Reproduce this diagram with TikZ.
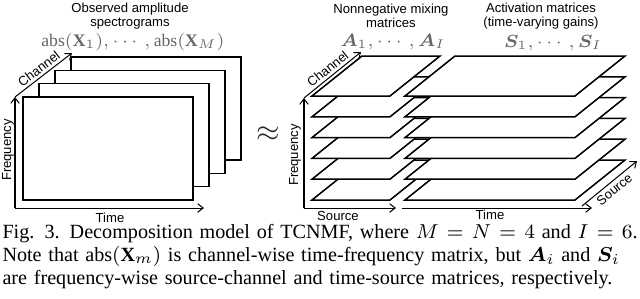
\documentclass[tikz,border=0pt]{standalone}
\usepackage{amsmath}
\usepackage{bm}
\usepackage{fontspec}
\setmainfont{Liberation Serif}
\setsansfont{Liberation Sans}
\usetikzlibrary{arrows.meta, positioning, calc}

\begin{document}
\begin{tikzpicture}[
    x=0.3968pt, y=-0.3968pt,
    lbl/.style={font=\sffamily\fontsize{5.2}{5.2}\selectfont, inner sep=1pt},
    ttl/.style={font=\sffamily\fontsize{5.2}{5.4}\selectfont, align=center, inner sep=0pt},
    mth/.style={font=\fontsize{7}{7}\selectfont, text=black!60, inner sep=0pt},
    axis/.style={-{Straight Barb[length=2.2pt, width=3.4pt]}, line width=0.4pt},
    frame/.style={draw, fill=white, line width=0.6pt},
]
\useasboundingbox (0,0) rectangle (640,298);

% observed spectrograms
\foreach \k in {3,2,1,0}
    \draw[frame] (23+16*\k, 97-13.33*\k) rectangle ++(170,103);
\coordinate (oL) at (15,208);
\coordinate (fL) at (15,97);
\coordinate (tL) at (204,208);
\coordinate (cL) at (72,53);
\draw[axis] (oL) -- (fL);
\draw[axis] (oL) -- (tL);
\draw[axis] (fL) -- node[lbl, sloped, above] (chL) {Channel} (cL);
\node[lbl, rotate=90] (frL) at (8,150) {Frequency};
\node[lbl] (tmL) at (110,218) {Time};
\node[ttl] (obs) at (130,16) {Observed amplitude\\spectrograms};
\node[mth] (absX) at (133,42) {$\mathrm{abs}(\mathbf{X}_1),\cdots,\mathrm{abs}(\mathbf{X}_M)$};

\node[text=black!85] (apx) at (268,134) {\fontsize{13}{13}\selectfont$\approx$};

% mixing and activation matrices
\foreach \j in {0,...,5} {
    \draw[frame] (312,200-20.8*\j) -- ++(78,0) -- ++(50,-40) -- ++(-78,0) -- cycle;
    \draw[frame] (405,200-20.8*\j) -- ++(170,0) -- ++(50,-40) -- ++(-170,0) -- cycle;
}
\coordinate (oR) at (304,208);
\coordinate (fR) at (304,98);
\coordinate (sR) at (396,208);
\coordinate (cR) at (361,52);
\draw[axis] (oR) -- (fR);
\draw[axis] (oR) -- (sR);
\draw[axis] (fR) -- node[lbl, sloped, above] (chR) {Channel} (cR);
\node[lbl, rotate=90] (frR) at (295,155) {Frequency};
\node[lbl] (srR) at (338,216) {Source};

\coordinate (oS) at (402,208);
\coordinate (tS) at (592,208);
\coordinate (s0) at (582,206);
\coordinate (s1) at (637,161);
\draw[axis] (oS) -- (tS);
\draw[axis] (s0) -- node[lbl, sloped, below] (srS) {Source} (s1);
\node[lbl] (tmS) at (490,215) {Time};

\node[ttl] (mix) at (391,16) {Nonnegative mixing\\matrices};
\node[mth] (Amat) at (393,42) {$\bm{A}_1,\cdots,\bm{A}_I$};
\node[ttl] (act) at (541,16) {Activation matrices\\(time-varying gains)};
\node[mth] (Smat) at (553,43) {$\bm{S}_1,\cdots,\bm{S}_I$};

% caption
\node[anchor=north west, inner sep=0pt, font=\fontsize{8}{9}\selectfont, text width=252pt, align=left] (cap) at (2,224) {%
\makebox[252pt][s]{Fig. 3. Decomposition model of TCNMF, where $M=N=4$ and $I=6$.}\\
\makebox[252pt][s]{Note that $\mathrm{abs}(\mathbf{X}_m)$ is channel-wise time-frequency matrix, but $\bm{A}_i$ and $\bm{S}_i$}\\
are frequency-wise source-channel and time-source matrices, respectively.};
\end{tikzpicture}
\end{document}
